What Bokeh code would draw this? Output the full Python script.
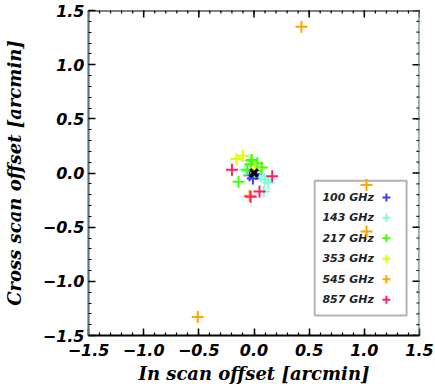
import math
from bokeh.plotting import figure
from bokeh.models import (FixedTicker, BoxAnnotation, ColumnDataSource, Range1d, Span)
from bokeh.core.properties import value
from bokeh.embed import file_html
from bokeh.resources import INLINE

# ---- data (arcmin) ----
bands = ["100 GHz", "143 GHz", "217 GHz", "353 GHz", "545 GHz", "857 GHz"]
colors = ["#3a3aff", "#7fffd0", "#44ff00", "#ddff00", "#ffa500", "#ff2060"]

in_100 = [-0.04, -0.01, 0.02]
cross_100 = [-0.02, -0.05, -0.01]
in_143 = [0.09, 0.10, 0.06, -0.03, -0.08, 0.13]
cross_143 = [-0.17, -0.06, -0.03, 0.11, 0.03, -0.09]
in_217 = [-0.14, -0.03, 0.03, 0.07, -0.06, 0.01, -0.02]
cross_217 = [-0.08, 0.08, 0.09, 0.05, 0.03, 0.02, 0.12]
in_353 = [-0.16, -0.10, 0.01]
cross_353 = [0.13, 0.16, 0.04]
in_545 = [-0.04, 1.02, 1.02, 0.43, -0.51]
cross_545 = [-0.21, -0.11, -0.54, 1.35, -1.33]
in_857 = [-0.20, 0.165, -0.03, 0.05]
cross_857 = [0.03, -0.03, -0.22, -0.17]
center_in = [0.0]
center_cross = [0.0]

tick_values = [-1.5, -1.0, -0.5, 0.0, 0.5, 1.0, 1.5]
tick_labels = ["\u22121.5", "\u22121.0", "\u22120.5", "0.0", "0.5", "1.0", "1.5"]
minor_values = [round(-1.5 + 0.1 * i, 2) for i in range(31)]
lo, hi = -1.5, 1.5

series_in = [in_100, in_143, in_217, in_353, in_545, in_857]
series_cross = [cross_100, cross_143, cross_217, cross_353, cross_545, cross_857]

AXIS_GRAY = "#5c7382"

p = figure(width=435, height=391, output_backend="svg", toolbar_location=None,
           x_range=Range1d(lo, hi), y_range=Range1d(lo, hi),
           min_border_left=84, min_border_right=16, min_border_top=10, min_border_bottom=56,
           x_axis_label="In scan offset [arcmin]", y_axis_label="Cross scan offset [arcmin]")
p.grid.visible = False
p.outline_line_color = None
p.background_fill_color = "white"
p.border_fill_color = "white"

overrides = {v: l for v, l in zip(tick_values, tick_labels)}

def style_axis(ax, color):
    ax.ticker = FixedTicker(ticks=tick_values, minor_ticks=minor_values)
    ax.axis_line_color = color
    ax.axis_line_width = 2.2
    ax.major_tick_line_color = "black"
    ax.minor_tick_line_color = "black"
    ax.major_tick_line_width = 1.5
    ax.minor_tick_line_width = 1.2
    ax.major_tick_in = 7
    ax.major_tick_out = 0
    ax.minor_tick_in = 3
    ax.minor_tick_out = 0
    ax.major_label_overrides = overrides
    ax.major_label_text_font = "DejaVu Sans"
    ax.major_label_text_font_style = "bold italic"
    ax.major_label_text_font_size = "16px"
    ax.major_label_text_color = "black"
    ax.axis_label_text_font = "DejaVu Serif"
    ax.axis_label_text_font_style = "bold italic"
    ax.axis_label_text_font_size = "18px"
    ax.axis_label_text_color = "black"

xa = p.xaxis[0]
ya = p.yaxis[0]
style_axis(xa, "black")
style_axis(ya, AXIS_GRAY)
xa.major_label_standoff = 8
xa.axis_label_standoff = 4
ya.major_label_standoff = 4
ya.axis_label_standoff = 15

# top and right frame edges with inward ticks
p.add_layout(Span(location=hi, dimension="width", line_color="black", line_width=2.2))
p.add_layout(Span(location=hi, dimension="height", line_color=AXIS_GRAY, line_width=2.2))
n_minor = len(minor_values)
n_major = len(tick_values)
p.scatter(minor_values, [hi] * n_minor, marker="dash", angle=math.pi / 2, size=6,
          line_color="black", line_width=1.2)
p.scatter(tick_values, [hi] * n_major, marker="dash", angle=math.pi / 2, size=14,
          line_color="black", line_width=1.5)
p.scatter([hi] * n_minor, minor_values, marker="dash", size=6,
          line_color="black", line_width=1.2)
p.scatter([hi] * n_major, tick_values, marker="dash", size=14,
          line_color="black", line_width=1.5)

# ---- legend (layout in data units) ----
box = BoxAnnotation(left=0.55, right=1.383, top=-0.072, bottom=-1.315,
                    fill_color=None, line_color="black", line_width=2, level="underlay")
p.add_layout(box)
leg_y = [-0.225 - 0.189 * i for i in range(len(bands))]
leg_src = ColumnDataSource(dict(x=[0.62] * len(bands), mx=[1.20] * len(bands), y=leg_y,
                                label=bands, color=colors))
p.text(x="x", y="y", text="label", source=leg_src, text_font=value("DejaVu Sans"),
       text_font_style="bold italic", text_font_size="11px", text_color="#222222",
       text_baseline="middle", text_align="left")
p.scatter(x="mx", y="y", source=leg_src, marker="cross", size=8, line_width=2,
          line_color="color")

# ---- data points ----
for xs, ys, c in zip(series_in, series_cross, colors):
    p.scatter(xs, ys, marker="cross", size=12, line_width=2, line_color=c)

p.scatter(center_in, center_cross, marker="x", size=11, line_width=3, line_color="black")

open("out.html", "w").write(file_html(p, INLINE))
